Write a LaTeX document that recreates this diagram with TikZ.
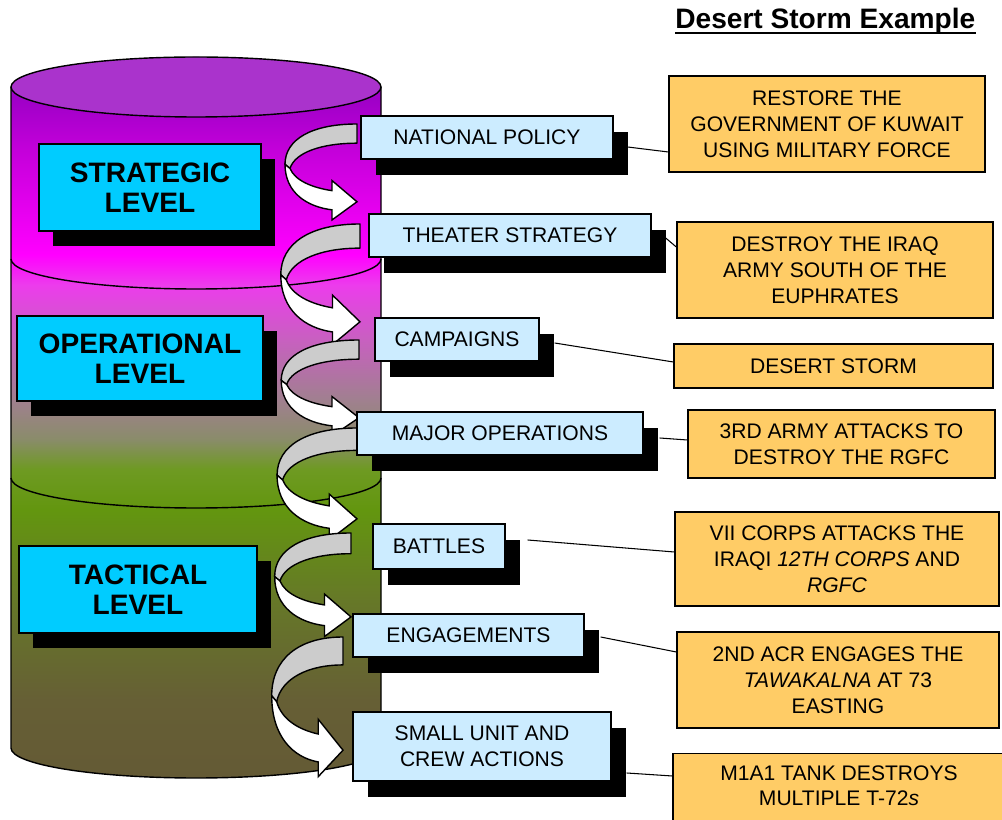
\documentclass[tikz,border=0pt]{standalone}
\usepackage{fontspec}
\setmainfont{Liberation Sans}
\usetikzlibrary{calc, shadows}

\definecolor{cylTop}{HTML}{AA33CC}
\definecolor{cylA}{HTML}{A000C8}
\definecolor{cylB}{HTML}{C400DA}
\definecolor{cylC}{HTML}{FF00FF}
\definecolor{cylD}{HTML}{EC3CEC}
\definecolor{cylE}{HTML}{C860C0}
\definecolor{cylF}{HTML}{A0808F}
\definecolor{cylG}{HTML}{8A8C6A}
\definecolor{cylH}{HTML}{6E9A22}
\definecolor{cylI}{HTML}{63960F}
\definecolor{cylJ}{HTML}{667828}
\definecolor{cylK}{HTML}{665F35}
\definecolor{cylL}{HTML}{645A35}
\definecolor{levelCyan}{HTML}{00CCFF}
\definecolor{boxBlue}{HTML}{CCECFF}
\definecolor{boxOrange}{HTML}{FFCC66}
\definecolor{ribbonGray}{HTML}{CCCCCC}

\pgfdeclareverticalshading{cylshade}{100bp}{color(0bp)=(cylL); color(25bp)=(cylL);
  color(30.4bp)=(cylK); color(37.3bp)=(cylJ); color(43.6bp)=(cylI); color(46.4bp)=(cylH);
  color(48.5bp)=(cylG); color(51.2bp)=(cylF); color(55.4bp)=(cylE); color(59.2bp)=(cylD);
  color(61.3bp)=(cylC); color(68.5bp)=(cylB); color(72bp)=(cylA); color(100bp)=(cylA)}

\begin{document}
\begin{tikzpicture}
	[x=0.02cm, y=-0.02cm,
	 LevelBox/.style={draw, line width=0.8pt, fill=levelCyan, align=center, inner sep=0pt,
	   font=\fontsize{16}{17}\selectfont\bfseries,
	   drop shadow={shadow xshift=8pt, shadow yshift=-8.5pt, fill=black, opacity=1}},	%cyan level boxes
	 StepBox/.style={draw, line width=0.8pt, fill=boxBlue, align=center, inner sep=0pt,
	   font=\fontsize{12}{14.7}\selectfont,
	   drop shadow={shadow xshift=8.5pt, shadow yshift=-9pt, fill=black, opacity=1}},	%light blue boxes
	 ExampleBox/.style={draw, line width=0.8pt, fill=boxOrange, align=center, inner sep=0pt,
	   font=\fontsize{12}{14.7}\selectfont},		%orange example boxes
	 Connector/.style={line width=0.6pt},
	 RibbonBack/.style={draw, line width=0.8pt, fill=ribbonGray, line join=round},
	 RibbonFront/.style={draw, line width=0.8pt, fill=white, line join=miter},
	 twist/.pic={
	   \path[RibbonBack] (0,0) .. controls (-45,0) and (-72,15) .. (-72,40) -- (-67,44)
	     .. controls (-62,28) and (-35,19) .. (0,19) -- cycle;
	   \path[RibbonFront] (-72,40) .. controls (-72,68) and (-50,82) .. (-25,85) -- (-25,95)
	     -- (0,77) -- (-25,56) -- (-25,66) .. controls (-45,63) and (-62,56) .. (-67,44) -- cycle;
	 }
	]

	\useasboundingbox (0,0) rectangle (1002,820);
	\clip (0,0) rectangle (1002,820);

	% cylinder
	\path[shading=cylshade] (11,87) -- (11,748) arc[start angle=180, end angle=0, x radius=185, y radius=30]
	  -- (381,87) arc[start angle=0, end angle=-180, x radius=185, y radius=30] -- cycle;
	\draw[line width=0.8pt] (11,87) -- (11,748) arc[start angle=180, end angle=0, x radius=185, y radius=30] -- (381,87);
	\draw[line width=0.8pt] (11,259) arc[start angle=180, end angle=0, x radius=185, y radius=30];	%band 1
	\draw[line width=0.8pt] (11,478) arc[start angle=180, end angle=0, x radius=185, y radius=30];	%band 2
	\draw[line width=0.8pt, fill=cylTop] (196,87) ellipse[x radius=185, y radius=30];

	% levels
	\node[LevelBox, minimum width=4.44cm, minimum height=1.74cm] (strategic) at (150,187.5) {STRATEGIC\\LEVEL};
	\node[LevelBox, minimum width=4.92cm, minimum height=1.70cm] (operational) at (140,358.5) {OPERATIONAL\\LEVEL};
	\node[LevelBox, minimum width=4.76cm, minimum height=1.74cm] (tactical) at (138,589.5) {TACTICAL\\LEVEL};

	% curved arrows
	\pic[xscale=1.00, yscale=1.01] at (357,124) {twist};
	\pic[xscale=1.10, yscale=1.27] at (360,224) {twist};
	\pic[xscale=1.08, yscale=1.01] at (359,340) {twist};
	\pic[xscale=1.11, yscale=1.18] at (357,428) {twist};
	\pic[xscale=1.06, yscale=1.09] at (351,533) {twist};
	\pic[xscale=0.99, yscale=1.47] at (343,637) {twist};

	% steps
	\node[StepBox, minimum width=5.04cm, minimum height=0.86cm] (natpol) at (487,137.5) {NATIONAL POLICY};
	\node[StepBox, minimum width=5.64cm, minimum height=0.86cm] (theater) at (510,235.5) {THEATER STRATEGY};
	\node[StepBox, minimum width=3.28cm, minimum height=0.86cm] (campaigns) at (457,339.5) {CAMPAIGNS};
	\node[StepBox, minimum width=5.72cm, minimum height=0.86cm] (majorops) at (500,433.5) {MAJOR OPERATIONS};
	\node[StepBox, minimum width=2.64cm, minimum height=0.90cm] (battles) at (439,546.5) {BATTLES};
	\node[StepBox, minimum width=4.62cm, minimum height=0.86cm] (engage) at (468.5,635.5) {ENGAGEMENTS};
	\node[StepBox, minimum width=5.16cm, minimum height=1.38cm] (smallunit) at (482,746.5) {SMALL UNIT AND\\CREW ACTIONS};

	% examples
	\node[ExampleBox, minimum width=6.32cm, minimum height=1.92cm] (restore) at (827,124) {RESTORE THE\\GOVERNMENT OF KUWAIT\\USING MILITARY FORCE};
	\node[ExampleBox, minimum width=6.32cm, minimum height=1.92cm] (destroy) at (835,270) {DESTROY THE IRAQ\\ARMY SOUTH OF THE\\EUPHRATES};
	\node[ExampleBox, minimum width=6.38cm, minimum height=0.88cm] (desert) at (833.5,366) {DESERT STORM};
	\node[ExampleBox, minimum width=6.14cm, minimum height=1.36cm] (army) at (841.5,444) {3RD ARMY ATTACKS TO\\DESTROY THE RGFC};
	\node[ExampleBox, minimum width=6.48cm, minimum height=1.88cm] (corps) at (837,559) {VII CORPS ATTACKS THE\\IRAQI \textit{12TH CORPS} AND\\\textit{RGFC}};
	\node[ExampleBox, minimum width=6.44cm, minimum height=1.92cm] (acr) at (838,680) {2ND ACR ENGAGES THE\\\textit{TAWAKALNA} AT 73\\EASTING};
	\node[ExampleBox, minimum width=6.64cm, anchor=north, inner ysep=6.6pt, text depth=1.2cm] (tank) at (839,753) {M1A1 TANK DESTROYS\\MULTIPLE T-72\textit{s}};

	% connectors
	\draw[Connector] ($(natpol.east)+(14,9.5)$) -- ($(restore.west)+(0,28)$);
	\draw[Connector] ($(theater.east)+(14,2.5)$) -- ($(destroy.west)+(0,-23)$);
	\draw[Connector] ($(campaigns.east)+(15,3.5)$) -- ($(desert.west)+(0,-4)$);
	\draw[Connector] ($(majorops.east)+(16,4.5)$) -- ($(army.west)+(0,-4)$);
	\draw[Connector] ($(battles.east)+(22,-6.5)$) -- ($(corps.west)+(0,-7)$);
	\draw[Connector] ($(engage.east)+(16,1.5)$) -- ($(acr.west)+(0,-28)$);
	\draw[Connector] ($(smallunit.east)+(15,26.5)$) -- ($(tank.north west)+(0,23)$);

	% title
	\node[inner sep=0pt, anchor=base west, font=\fontsize{16}{18}\selectfont\bfseries] (title) at (675,29) {Desert Storm Example};
	\draw[line width=1.1pt] ($(title.base west)+(0,4)$) -- ($(title.base east)+(0,4)$);

\end{tikzpicture}
\end{document}
